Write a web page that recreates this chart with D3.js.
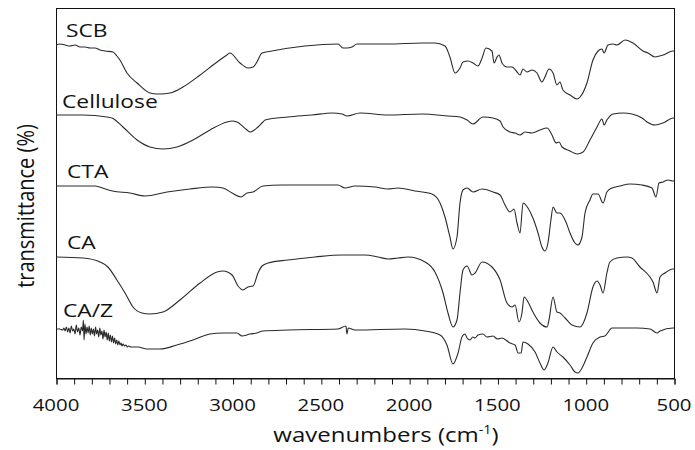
<!DOCTYPE html>
<html>
<head>
<meta charset="utf-8">
<script src="https://cdn.jsdelivr.net/npm/d3@7"></script>
<style>
  html, body { margin: 0; padding: 0; background: #fff; }
  svg { display: block; }
  text { font-family: "Open Sans", "Noto Sans", sans-serif; fill: #111; }
</style>
</head>
<body>
<svg id="chart" width="695" height="450"></svg>
<script>
// ---- data (wavenumber cm-1, stacked transmittance in arbitrary units) ----
const seriesNames = ["SCB", "Cellulose", "CTA", "CA", "CA/Z"];

const scb = [
  [4000,333],[3977,334],[3949,333],[3921,332],[3892,333],[3864,331],[3836,331],[3807,330],
  [3779,330],[3751,328],[3722,327],[3677,326],[3655,322],[3638,318],[3598,305],[3541,295],
  [3468,285],[3428,284],[3411,284],[3354,285],[3281,291],[3184,303],[3088,316],[3032,323],
  [3015,325],[2958,315],[2913,310],[2884,311],[2862,316],[2833,325],[2777,327],[2590,332],
  [2403,334],[2375,330],[2352,330],[2324,331],[2295,334],[2120,334],[1927,335],[1854,335],
  [1797,332],[1769,321],[1740,305],[1712,310],[1695,316],[1667,317],[1638,315],[1610,312],
  [1587,320],[1565,330],[1531,327],[1519,315],[1502,321],[1491,323],[1474,315],[1446,311],
  [1417,311],[1389,306],[1372,303],[1355,309],[1333,306],[1304,308],[1276,305],[1248,296],
  [1231,301],[1208,309],[1185,305],[1163,293],[1146,296],[1129,288],[1089,283],[1049,279],
  [1032,281],[993,295],[959,318],[930,327],[908,329],[896,325],[874,333],[845,334],[823,333],
  [777,338],[732,335],[676,327],[647,325],[608,321],[562,323],[506,327],[500,327]
];

const cellulose = [
  [4000,263],[3847,263],[3711,261],[3683,260],[3621,251],[3541,238],[3468,231],[3394,229],
  [3315,231],[3224,238],[3128,248],[3032,256],[3003,257],[2975,256],[2918,248],[2901,246],
  [2856,251],[2828,256],[2816,258],[2686,261],[2550,263],[2437,265],[2380,264],[2352,262],
  [2278,265],[2120,263],[1927,264],[1780,262],[1712,261],[1672,258],[1638,254],[1582,261],
  [1525,260],[1485,257],[1468,251],[1429,246],[1400,245],[1372,243],[1344,246],[1304,245],
  [1259,248],[1219,250],[1191,243],[1168,235],[1151,236],[1134,231],[1089,227],[1049,224],
  [1015,226],[976,238],[936,251],[908,259],[896,253],[880,258],[845,264],[789,265],[738,264],
  [681,260],[653,256],[608,253],[562,255],[506,260],[500,260]
];

const cta = [
  [4000,192],[3780,192],[3720,189],[3680,187],[3581,185],[3496,182],[3371,186],[3241,189],[3111,191],
  [3054,190],[3003,185],[2952,181],[2918,185],[2884,186],[2828,192],[2720,193],[2403,193],
  [2363,190],[2307,192],[2193,191],[2120,189],[2063,190],[1967,187],[1871,184],[1825,175],
  [1797,161],[1769,141],[1752,129],[1729,141],[1712,175],[1695,188],[1672,190],[1638,186],
  [1587,189],[1525,186],[1485,183],[1457,173],[1429,166],[1406,169],[1389,155],[1372,145],
  [1355,175],[1327,170],[1299,160],[1270,145],[1248,131],[1231,127],[1214,135],[1197,158],
  [1185,171],[1163,165],[1146,165],[1112,156],[1089,145],[1061,135],[1044,133],[1021,141],
  [1004,165],[976,178],[959,184],[930,184],[902,175],[880,186],[851,190],[806,192],[749,194],
  [681,193],[625,190],[602,181],[585,195],[562,196],[534,198],[506,197],[500,197]
];

const ca = [
  [4000,121],[3847,120],[3751,116],[3706,111],[3655,98],[3609,85],[3564,71],[3513,65],
  [3468,64],[3394,66],[3298,78],[3184,95],[3088,106],[3054,107],[3003,103],[2969,92],
  [2941,88],[2913,91],[2884,92],[2856,105],[2833,112],[2799,115],[2686,118],[2533,121],
  [2380,123],[2250,123],[2176,121],[2120,119],[2063,120],[2006,121],[1910,116],[1854,106],
  [1808,85],[1780,65],[1752,51],[1729,58],[1712,85],[1695,108],[1672,112],[1644,103],
  [1627,105],[1587,116],[1531,111],[1485,98],[1446,75],[1417,71],[1400,73],[1378,56],
  [1361,65],[1349,81],[1327,76],[1299,66],[1259,55],[1219,51],[1208,58],[1185,81],[1163,66],
  [1146,65],[1117,60],[1078,53],[1032,51],[993,65],[959,91],[936,97],[919,93],[902,85],
  [880,105],[863,116],[823,120],[766,121],[738,120],[693,111],[636,101],[619,96],[596,85],
  [579,101],[551,105],[506,109],[500,109]
];

const caz = [
  [4000,49],[3980,49],[3962,48],
  [3955,50],[3948,47],[3941,51],[3934,46],[3927,50],[3920,45],[3913,52],[3906,47],[3899,49],
  [3892,44],[3885,53],[3878,46],[3871,50],[3864,43],[3857,51],[3850,47],[3845,58],[3841,38],
  [3836,54],[3830,44],[3824,51],[3818,45],[3812,52],[3806,43],[3800,50],[3794,44],[3788,49],
  [3782,42],[3776,51],[3770,44],[3764,48],[3758,41],[3752,50],[3746,43],[3740,47],[3734,39],
  [3728,48],[3722,41],[3716,46],[3710,38],[3704,45],[3698,37],[3692,43],[3686,36],[3680,42],
  [3674,35],[3668,40],[3662,34],[3656,38],[3650,33],[3644,37],[3638,33],[3632,35],[3626,32],
  [3620,34],[3612,32],[3604,33],[3596,31],[3588,32],[3575,31],[3564,31],
  [3536,31],[3485,29],[3411,29],[3315,33],[3224,38],[3128,44],
  [3054,45],[2975,45],[2947,42],[2901,44],[2862,45],[2828,47],[2686,48],[2403,49],[2358,52],
  [2352,44],[2345,50],[2307,48],[2023,49],[1910,47],[1825,43],[1786,33],[1752,14],[1723,25],
  [1701,41],[1684,44],[1672,40],[1655,38],[1640,41],[1627,40],[1610,43],[1582,44],[1560,41],
  [1525,42],[1500,39],[1474,40],[1429,35],[1400,33],[1383,25],[1366,25],[1355,36],[1327,34],
  [1287,26],[1259,15],[1236,8],[1214,15],[1185,31],[1163,26],[1129,21],[1089,13],[1061,6],
  [1044,5],[1021,10],[993,21],[959,35],[919,41],[891,42],[851,50],[806,50],[710,50],[636,49],
  [596,45],[579,47],[506,50],[500,50]
];

const seriesData = [scb, cellulose, cta, ca, caz];
const xTickValues = [4000, 3500, 3000, 2500, 2000, 1500, 1000, 500];
const xMinorTicks = d3.range(500, 4001, 100);
const xTitle = "wavenumbers (cm";
const yTitle = "transmittance (%)";

// ---- layout ----
const svg = d3.select("#chart");
const mLeft = 56, mRight = 674, mTop = 8, mBottom = 378;
const x = d3.scaleLinear().domain([4000, 500]).range([mLeft, mRight]);
const y = d3.scaleLinear().domain([0, 370]).range([mBottom, mTop]);

// frame
svg.append("rect")
  .attr("x", mLeft + 0.5).attr("y", mTop + 0.5)
  .attr("width", mRight - mLeft).attr("height", mBottom - mTop)
  .attr("fill", "none").attr("stroke", "#111").attr("stroke-width", 1);

// bottom axis
const axis = d3.axisBottom(x).tickValues(xMinorTicks).tickSize(6).tickFormat("");
const gx = svg.append("g").attr("transform", `translate(0.5,${mBottom + 0.5})`).call(axis);
gx.select(".domain").attr("stroke", "#111");
gx.selectAll(".tick line").attr("stroke", "#111");

// tick labels (stretched horizontally as in the reference)
svg.append("g").selectAll("text").data(xTickValues).join("text")
  .attr("transform", d => `translate(${x(d)},411) scale(1.2,1)`)
  .attr("text-anchor", "middle")
  .style("font-size", "17px")
  .text(d => d);

// x title
const xt = svg.append("text")
  .attr("transform", `translate(386,442) scale(1.2,1)`)
  .attr("text-anchor", "middle")
  .style("font-size", "20px");
xt.append("tspan").text(xTitle);
xt.append("tspan").attr("dy", -8).style("font-size", "12px").text("-1");
xt.append("tspan").attr("dy", 8).text(")");

// y title
svg.append("text")
  .attr("transform", `translate(34,206) rotate(-90) scale(1,1.2)`)
  .attr("text-anchor", "middle")
  .style("font-size", "20px")
  .text(yTitle);

// spectra
const line = d3.line()
  .x(d => x(d[0]))
  .y(d => y(d[1]))
  .curve(d3.curveMonotoneX);

svg.append("g").selectAll("path").data(seriesData).join("path")
  .attr("d", line)
  .attr("fill", "none")
  .attr("stroke", "#2a2a2a")
  .attr("stroke-width", 1.1)
  .attr("stroke-linejoin", "round");

// series labels
const labelPos = [[66, 37], [62, 108], [67, 178], [67, 249], [63, 317]];
svg.append("g").selectAll("text").data(seriesNames).join("text")
  .attr("transform", (d, i) => `translate(${labelPos[i][0]},${labelPos[i][1]}) scale(1.2,1)`)
  .style("font-size", "19px")
  .text(d => d);
</script>
</body>
</html>
